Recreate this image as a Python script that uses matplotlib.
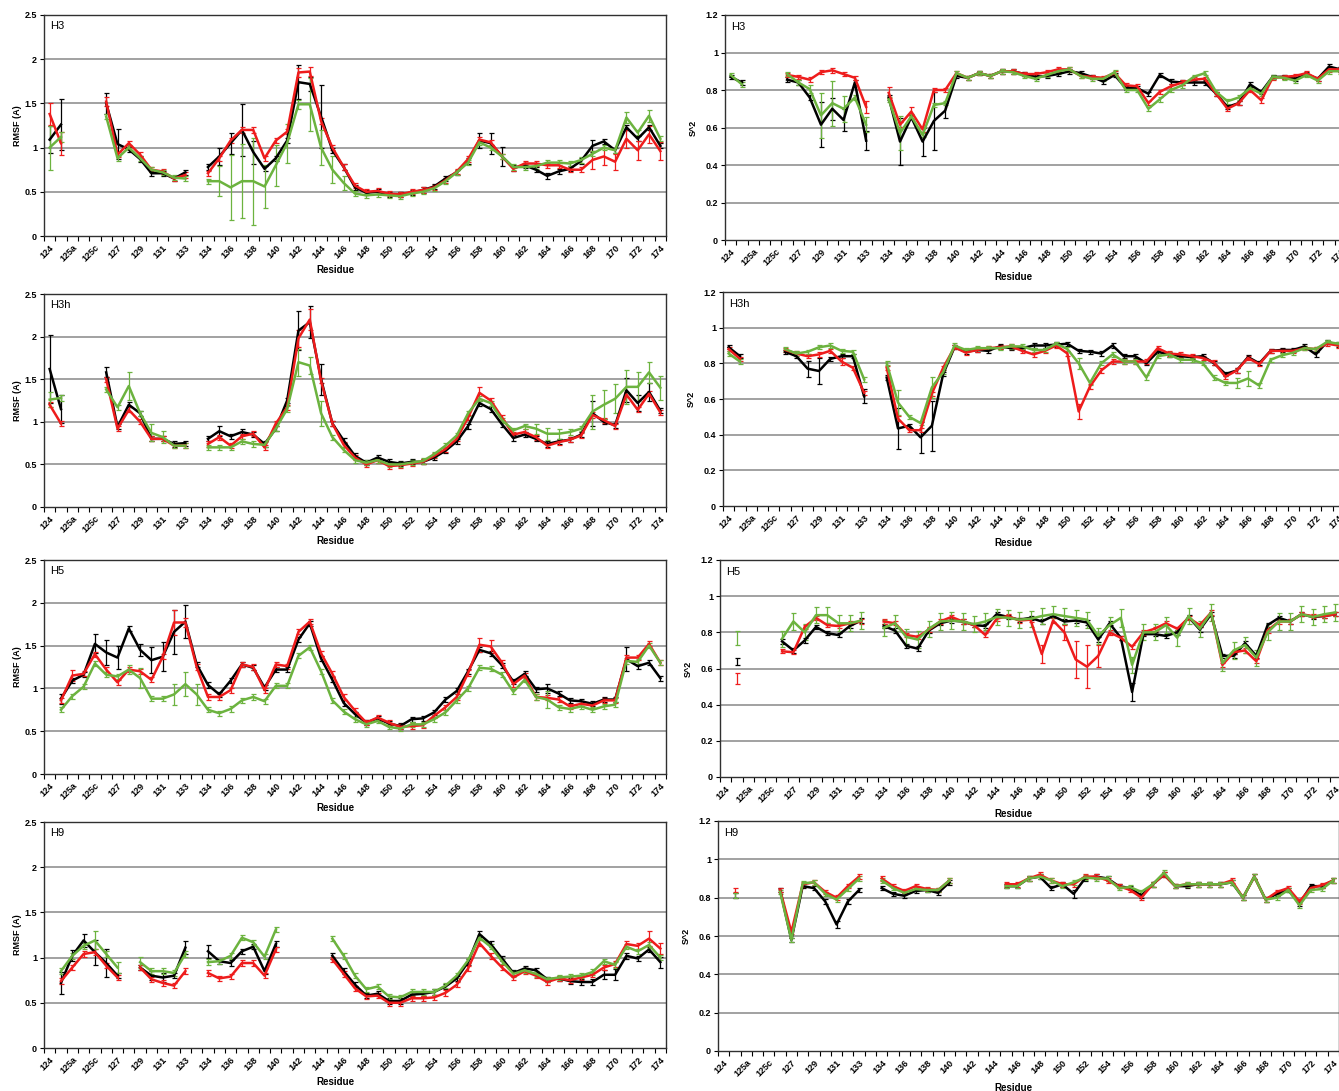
import numpy as np
import matplotlib
matplotlib.use('Agg')
import matplotlib.pyplot as plt

nan = np.nan

# ---------------- categories ----------------
residues = (['124', '125', '125a', '125b', '125c'] + [str(r) for r in range(126, 134)]
            + ['133a'] + [str(r) for r in range(134, 175)])
tick_labels = residues[::2]

# ---------------- RMSF data ----------------
h3_rmsf_black = [1.09,1.26,nan,nan,nan,1.50,1.04,0.98,0.87,0.71,0.71,0.65,0.72,nan,
 0.78,0.90,1.05,1.20,0.95,0.76,0.88,1.08,1.74,1.72,1.35,0.97,0.78,0.55,0.49,0.50,0.47,0.47,0.49,0.52,0.56,0.65,0.72,0.85,1.08,1.05,0.90,0.77,0.80,0.75,0.68,0.73,0.76,0.85,1.02,1.07,0.97,1.23,1.10,1.23,1.02]
h3_rmsf_red = [1.38,1.05,nan,nan,nan,1.52,0.92,1.05,0.92,0.75,0.73,0.65,0.69,nan,
 0.71,0.88,1.08,1.20,1.20,0.88,1.08,1.18,1.85,1.86,1.30,1.00,0.78,0.57,0.50,0.51,0.48,0.47,0.50,0.52,0.55,0.63,0.73,0.87,1.09,1.06,0.90,0.76,0.82,0.82,0.80,0.80,0.75,0.75,0.86,0.90,0.84,1.10,0.97,1.15,0.96]
h3_rmsf_green = [1.00,1.12,nan,nan,nan,1.35,0.88,1.00,0.88,0.75,0.72,0.66,0.65,nan,
 0.62,0.62,0.55,0.62,0.62,0.56,0.80,1.05,1.49,1.49,1.00,0.75,0.60,0.48,0.46,0.47,0.46,0.45,0.48,0.50,0.54,0.62,0.72,0.83,1.06,1.00,0.90,0.78,0.78,0.79,0.83,0.83,0.82,0.86,0.93,1.00,0.97,1.34,1.17,1.36,1.10]

h3h_rmsf_black = [1.62,1.15,nan,nan,nan,1.58,0.94,1.20,1.10,0.80,0.80,0.74,0.75,nan,
 0.80,0.89,0.83,0.88,0.85,0.74,0.92,1.25,2.07,2.17,1.50,0.98,0.78,0.60,0.52,0.58,0.53,0.51,0.53,0.53,0.58,0.66,0.77,0.95,1.22,1.15,0.97,0.81,0.85,0.80,0.74,0.77,0.79,0.85,1.10,1.00,0.96,1.37,1.22,1.35,1.13]
h3h_rmsf_red = [1.20,0.98,nan,nan,nan,1.50,0.92,1.14,1.00,0.80,0.80,0.72,0.72,nan,
 0.74,0.82,0.72,0.83,0.86,0.70,0.98,1.17,1.98,2.20,1.48,0.98,0.73,0.58,0.50,0.55,0.48,0.49,0.51,0.53,0.60,0.68,0.80,1.05,1.34,1.25,1.05,0.85,0.88,0.82,0.72,0.76,0.79,0.84,1.08,1.02,0.95,1.32,1.14,1.33,1.11]
h3h_rmsf_green = [1.26,1.28,nan,nan,nan,1.38,1.17,1.42,1.10,0.87,0.82,0.72,0.72,nan,
 0.70,0.70,0.70,0.77,0.74,0.73,0.92,1.15,1.70,1.66,1.10,0.82,0.67,0.55,0.52,0.55,0.50,0.50,0.52,0.54,0.62,0.72,0.84,1.10,1.27,1.22,1.02,0.90,0.95,0.92,0.86,0.86,0.88,0.92,1.12,1.20,1.27,1.41,1.41,1.58,1.40]

h5_rmsf_black = [nan,0.88,1.09,1.16,1.52,1.42,1.36,1.70,1.45,1.33,1.37,1.66,1.78,1.28,
 1.04,0.93,1.09,1.28,1.24,1.01,1.22,1.22,1.57,1.76,1.35,1.10,0.83,0.70,0.60,0.65,0.59,0.56,0.64,0.65,0.72,0.87,0.97,1.20,1.45,1.41,1.27,1.08,1.17,0.99,1.00,0.94,0.86,0.85,0.82,0.87,0.87,1.34,1.26,1.30,1.12]
h5_rmsf_red = [nan,0.86,1.15,1.17,1.40,1.22,1.07,1.22,1.20,1.10,1.37,1.77,1.77,1.25,
 0.90,0.90,0.98,1.28,1.25,0.98,1.28,1.26,1.66,1.78,1.41,1.17,0.90,0.74,0.60,0.66,0.60,0.55,0.56,0.57,0.68,0.78,0.90,1.18,1.51,1.49,1.30,1.05,1.15,0.90,0.89,0.87,0.79,0.82,0.80,0.86,0.86,1.36,1.36,1.52,1.30]
h5_rmsf_green = [nan,0.75,0.91,1.02,1.29,1.16,1.14,1.22,1.12,0.88,0.88,0.93,1.05,0.93,
 0.75,0.71,0.76,0.86,0.90,0.85,1.03,1.03,1.38,1.48,1.20,0.86,0.73,0.64,0.58,0.62,0.55,0.53,0.58,0.58,0.64,0.72,0.86,1.00,1.24,1.23,1.16,0.96,1.10,0.90,0.87,0.78,0.76,0.79,0.75,0.79,0.81,1.32,1.31,1.50,1.30]

h9_rmsf_black = [nan,0.72,1.02,1.19,1.06,0.94,0.80,nan,0.89,0.80,0.78,0.80,1.11,nan,
 1.07,0.96,0.94,1.07,1.12,0.85,1.15,nan,nan,nan,nan,1.02,0.85,0.70,0.58,0.60,0.52,0.52,0.59,0.60,0.62,0.68,0.77,0.95,1.26,1.15,0.99,0.83,0.88,0.86,0.76,0.77,0.74,0.73,0.73,0.81,0.81,1.02,0.99,1.09,0.95]
h9_rmsf_red = [nan,0.74,0.89,1.04,1.06,0.91,0.78,nan,0.89,0.76,0.72,0.69,0.85,nan,
 0.83,0.77,0.79,0.94,0.94,0.80,1.09,nan,nan,nan,nan,0.98,0.82,0.66,0.57,0.58,0.50,0.50,0.55,0.55,0.56,0.61,0.70,0.88,1.16,1.02,0.89,0.78,0.85,0.80,0.73,0.77,0.75,0.78,0.81,0.89,0.93,1.15,1.13,1.21,1.10]
h9_rmsf_green = [nan,0.85,1.02,1.13,1.19,1.04,0.89,nan,0.95,0.85,0.85,0.83,1.04,nan,
 0.95,0.96,1.02,1.22,1.17,1.01,1.31,nan,nan,nan,nan,1.21,1.02,0.80,0.65,0.68,0.57,0.56,0.62,0.62,0.62,0.69,0.80,0.97,1.22,1.12,0.96,0.82,0.86,0.82,0.76,0.78,0.79,0.80,0.84,0.96,0.92,1.12,1.07,1.14,1.00]

# ---------------- S^2 data ----------------
h3_s2_black = [0.87,0.84,nan,nan,nan,0.855,0.84,0.76,0.615,0.70,0.64,0.84,0.53,nan,
 0.76,0.525,0.655,0.525,0.635,0.69,0.875,0.865,0.89,0.875,0.90,0.90,0.885,0.87,0.875,0.885,0.90,0.89,0.87,0.845,0.88,0.81,0.81,0.78,0.88,0.845,0.84,0.84,0.84,0.78,0.71,0.73,0.83,0.79,0.87,0.87,0.86,0.885,0.86,0.925,0.91]
h3_s2_red = [nan,nan,nan,nan,nan,0.88,0.87,0.855,0.895,0.905,0.885,0.865,0.71,nan,
 0.785,0.615,0.685,0.59,0.80,0.80,0.89,0.865,0.89,0.875,0.90,0.90,0.885,0.885,0.895,0.91,0.91,0.875,0.87,0.865,0.89,0.825,0.82,0.73,0.79,0.82,0.84,0.855,0.86,0.78,0.70,0.73,0.80,0.745,0.865,0.87,0.875,0.89,0.86,0.91,0.91]
h3_s2_green = [0.88,0.83,nan,nan,nan,0.885,0.84,0.805,0.665,0.73,0.70,0.76,0.615,nan,
 0.75,0.57,0.66,0.56,0.72,0.73,0.89,0.865,0.89,0.875,0.90,0.895,0.875,0.86,0.88,0.90,0.91,0.875,0.86,0.86,0.895,0.80,0.80,0.70,0.75,0.80,0.825,0.87,0.89,0.79,0.74,0.76,0.81,0.78,0.87,0.865,0.85,0.88,0.85,0.90,0.90]

h3h_s2_black = [0.89,0.84,nan,nan,nan,0.865,0.84,0.77,0.757,0.825,0.84,0.84,0.615,nan,
 0.72,0.435,0.45,0.385,0.45,0.74,0.89,0.865,0.875,0.87,0.895,0.885,0.885,0.90,0.90,0.905,0.91,0.87,0.865,0.855,0.90,0.84,0.84,0.80,0.865,0.85,0.84,0.835,0.84,0.80,0.74,0.76,0.835,0.80,0.87,0.875,0.875,0.895,0.85,0.92,0.905]
h3h_s2_red = [0.88,0.825,nan,nan,nan,0.875,0.855,0.84,0.85,0.87,0.81,0.775,0.635,nan,
 0.775,0.49,0.425,0.425,0.63,0.775,0.89,0.86,0.875,0.885,0.89,0.895,0.87,0.85,0.87,0.90,0.855,0.53,0.67,0.76,0.81,0.81,0.81,0.81,0.885,0.855,0.85,0.84,0.83,0.805,0.725,0.76,0.83,0.795,0.87,0.87,0.87,0.885,0.88,0.91,0.90]
h3h_s2_green = [0.855,0.81,nan,nan,nan,0.88,0.855,0.865,0.89,0.90,0.87,0.865,0.71,nan,
 0.80,0.58,0.50,0.465,0.665,0.75,0.90,0.875,0.885,0.885,0.885,0.895,0.895,0.875,0.875,0.91,0.88,0.80,0.69,0.80,0.85,0.81,0.81,0.72,0.84,0.85,0.82,0.82,0.80,0.72,0.69,0.69,0.715,0.675,0.82,0.845,0.86,0.885,0.88,0.92,0.91]

h5_s2_black = [nan,0.64,nan,nan,nan,0.75,0.70,0.755,0.83,0.795,0.785,0.835,0.865,nan,
 0.835,0.81,0.725,0.71,0.81,0.85,0.865,0.86,0.84,0.835,0.90,0.885,0.87,0.88,0.86,0.89,0.86,0.865,0.855,0.76,0.85,0.77,0.47,0.79,0.79,0.78,0.80,0.885,0.815,0.90,0.67,0.67,0.74,0.67,0.84,0.88,0.86,0.90,0.885,0.89,0.90]
h5_s2_red = [nan,0.545,nan,nan,nan,0.695,0.69,0.83,0.88,0.84,0.835,0.85,0.86,nan,
 0.86,0.85,0.785,0.775,0.815,0.86,0.885,0.86,0.84,0.785,0.875,0.89,0.865,0.87,0.68,0.865,0.80,0.65,0.61,0.67,0.80,0.77,0.72,0.80,0.82,0.85,0.82,0.88,0.84,0.91,0.62,0.69,0.70,0.64,0.81,0.86,0.86,0.90,0.89,0.89,0.90]
h5_s2_green = [nan,0.77,nan,nan,nan,0.765,0.86,0.80,0.895,0.895,0.85,0.85,0.865,nan,
 0.825,0.85,0.775,0.76,0.82,0.86,0.865,0.86,0.845,0.86,0.885,0.88,0.87,0.875,0.89,0.90,0.89,0.88,0.87,0.78,0.84,0.88,0.62,0.80,0.80,0.84,0.77,0.89,0.82,0.91,0.63,0.70,0.73,0.66,0.80,0.86,0.86,0.90,0.885,0.90,0.91]

h9_s2_black = [nan,0.81,nan,nan,nan,0.84,0.58,0.86,0.85,0.78,0.66,0.78,0.84,nan,
 0.85,0.82,0.81,0.835,0.84,0.825,0.88,nan,nan,nan,nan,0.86,0.86,0.90,0.91,0.85,0.87,0.82,0.90,0.91,0.90,0.86,0.85,0.81,0.87,0.92,0.86,0.86,0.87,0.87,0.87,0.88,0.80,0.91,0.79,0.82,0.84,0.77,0.86,0.86,0.89]
h9_s2_red = [nan,0.84,nan,nan,nan,0.84,0.62,0.87,0.88,0.83,0.80,0.86,0.91,nan,
 0.90,0.86,0.835,0.86,0.845,0.84,0.89,nan,nan,nan,nan,0.87,0.87,0.90,0.92,0.89,0.87,0.87,0.91,0.91,0.89,0.86,0.84,0.80,0.87,0.92,0.86,0.87,0.87,0.87,0.87,0.89,0.80,0.91,0.79,0.83,0.85,0.78,0.85,0.865,0.89]
h9_s2_green = [nan,0.81,nan,nan,nan,0.83,0.58,0.875,0.88,0.82,0.79,0.845,0.90,nan,
 0.89,0.85,0.825,0.845,0.84,0.84,0.89,nan,nan,nan,nan,0.86,0.86,0.90,0.91,0.89,0.86,0.88,0.905,0.90,0.90,0.85,0.855,0.83,0.87,0.93,0.86,0.87,0.87,0.87,0.87,0.88,0.80,0.91,0.79,0.80,0.84,0.76,0.84,0.845,0.89]

# ---------------- error bars (half widths; default + notable ones) ----------------
err_default_rmsf = 0.03
err_default_s2 = 0.012
h3_rmsf_err = {
    'k': {'124': 0.15, '125': 0.29, '126': 0.12, '127': 0.17, '135': 0.1, '136': 0.12,
          '137': 0.29, '138': 0.13, '142': 0.19, '143': 0.08, '144': 0.36, '160': 0.11,
          '158': 0.08, '159': 0.12, '168': 0.07},
    'r': {'124': 0.12, '125': 0.13, '126': 0.05, '142': 0.05, '143': 0.05, '168': 0.1,
          '169': 0.1, '170': 0.09, '171': 0.1, '172': 0.11, '173': 0.1, '174': 0.1},
    'g': {'124': 0.25, '125': 0.06, '135': 0.17, '136': 0.37, '137': 0.42, '138': 0.49,
          '139': 0.24, '140': 0.23, '141': 0.22, '142': 0.05, '143': 0.3, '144': 0.2,
          '145': 0.15, '146': 0.08, '171': 0.06, '173': 0.07},
}
h3h_rmsf_err = {
    'k': {'124': 0.4, '125': 0.16, '126': 0.06, '135': 0.06, '142': 0.23, '143': 0.19,
          '144': 0.18, '168': 0.15, '171': 0.14, '172': 0.09, '173': 0.1},
    'r': {'142': 0.1, '143': 0.12, '158': 0.07},
    'g': {'124': 0.09, '128': 0.16, '130': 0.1, '131': 0.07, '142': 0.16, '143': 0.1,
          '144': 0.15, '168': 0.2, '169': 0.17, '170': 0.17, '171': 0.2, '172': 0.17,
          '173': 0.12, '174': 0.14, '164': 0.07, '163': 0.06, '165': 0.06},
}
h5_rmsf_err = {
    'k': {'125': 0.06, '125c': 0.11, '126': 0.15, '127': 0.13, '129': 0.07, '130': 0.15,
          '131': 0.17, '132': 0.26, '133': 0.19, '171': 0.14, '164': 0.05},
    'r': {'132': 0.15, '133': 0.05, '158': 0.08, '159': 0.08, '125a': 0.06},
    'g': {'129': 0.12, '132': 0.12, '133': 0.14, '133a': 0.12, '164': 0.1, '128': 0.05},
}
h9_rmsf_err = {
    'k': {'125': 0.12, '125a': 0.06, '125b': 0.07, '125c': 0.14, '126': 0.15, '133': 0.07,
          '134': 0.07, '131': 0.05, '130': 0.05, '169': 0.05, '170': 0.06, '174': 0.06},
    'r': {'173': 0.08, '174': 0.06},
    'g': {'125c': 0.1, '127': 0.06, '129': 0.06},
}
h3_s2_err = {
    'k': {'129': 0.12, '130': 0.06, '131': 0.06, '133': 0.05, '135': 0.125, '137': 0.075,
          '138': 0.155, '139': 0.04},
    'r': {'133': 0.03, '134': 0.03, '136': 0.025},
    'g': {'129': 0.12, '130': 0.12, '131': 0.07, '133': 0.04, '135': 0.09, '128': 0.02},
}
h3h_s2_err = {
    'k': {'128': 0.045, '129': 0.075, '133': 0.04, '135': 0.115, '137': 0.085, '138': 0.14},
    'r': {'151': 0.04, '131': 0.02},
    'g': {'135': 0.07, '138': 0.06, '151': 0.03, '166': 0.04, '165': 0.03},
}
h5_s2_err = {
    'k': {'125': 0.02, '156': 0.05},
    'r': {'125': 0.028, '148': 0.05, '150': 0.04, '151': 0.1, '152': 0.12, '153': 0.06},
    'g': {'125': 0.04, '155': 0.05},
}
h5_s2_green_default = 0.045
h9_s2_err = {'k': {'131': 0.02, '151': 0.02}, 'r': {}, 'g': {}}

# ---------------- style ----------------
W, H = 1339, 1091
fig = plt.figure(figsize=(W / 100, H / 100), dpi=100)
plt.rcParams['font.family'] = ['Liberation Sans', 'DejaVu Sans']

colors = {'k': '#000000', 'r': '#ee1c1c', 'g': '#6cb33f'}


def axes_at(x0, top, x1, bottom):
    return fig.add_axes([x0 / W, 1 - bottom / H, (x1 - x0) / W, (bottom - top) / H])


def err_array(spec, default):
    return np.array([spec.get(r, default) for r in residues])


def draw_panel(ax, series, errs, ymax, ystep, title, default_err, green_default=None):
    n = len(residues)
    x = np.arange(n)
    ax.set_xlim(-0.5, n - 0.5)
    ax.set_ylim(0, ymax)
    yt = np.round(np.arange(0, ymax + 1e-9, ystep), 3)
    ax.set_yticks(yt)
    ax.set_yticklabels([('%g' % v) for v in yt], fontsize=6.5, fontweight='bold')
    for v in yt[1:]:
        ax.axhline(v, color='#9a9a9a', lw=1.3, zorder=0)
    for key in ['k', 'r', 'g']:
        y = np.array(series[key], dtype=float)
        assert len(y) == n
        d = default_err
        if key == 'g' and green_default is not None:
            d = green_default
        e = err_array(errs[key], d)
        ax.errorbar(x, y, yerr=e, color=colors[key], lw=1.8, elinewidth=0.9,
                    capsize=1.8, capthick=0.9, zorder=3)
    ax.set_xticks(x[::2])
    ax.set_xticklabels(tick_labels, rotation=45, ha='right', rotation_mode='anchor',
                       fontsize=6.5, fontweight='bold')
    ax.set_xticks(np.arange(-0.5, n, 1.0), minor=True)
    ax.tick_params(axis='x', which='major', length=0, pad=5)
    ax.tick_params(axis='x', which='minor', length=3.5, width=0.8, direction='out')
    ax.tick_params(axis='y', length=3, width=0.8, direction='out', pad=2)
    for s in ax.spines.values():
        s.set_color('#303030')
        s.set_linewidth(1.0)


# ---------------- layout ----------------
left_boxes = [(44, 15, 666, 236), (44, 294, 666, 507), (44, 560, 666, 774), (44, 822, 666, 1048)]
right_boxes = [(725, 15, 1346, 240), (723, 292, 1344, 506), (720, 560, 1341, 777), (718, 821, 1339, 1051)]
titles = ['H3', 'H3h', 'H5', 'H9']

rmsf_sets = [
    ({'k': h3_rmsf_black, 'r': h3_rmsf_red, 'g': h3_rmsf_green}, h3_rmsf_err),
    ({'k': h3h_rmsf_black, 'r': h3h_rmsf_red, 'g': h3h_rmsf_green}, h3h_rmsf_err),
    ({'k': h5_rmsf_black, 'r': h5_rmsf_red, 'g': h5_rmsf_green}, h5_rmsf_err),
    ({'k': h9_rmsf_black, 'r': h9_rmsf_red, 'g': h9_rmsf_green}, h9_rmsf_err),
]
s2_sets = [
    ({'k': h3_s2_black, 'r': h3_s2_red, 'g': h3_s2_green}, h3_s2_err, None),
    ({'k': h3h_s2_black, 'r': h3h_s2_red, 'g': h3h_s2_green}, h3h_s2_err, None),
    ({'k': h5_s2_black, 'r': h5_s2_red, 'g': h5_s2_green}, h5_s2_err, h5_s2_green_default),
    ({'k': h9_s2_black, 'r': h9_s2_red, 'g': h9_s2_green}, h9_s2_err, None),
]

for i in range(4):
    x0, t, x1, b = left_boxes[i]
    ax = axes_at(x0, t, x1, b)
    ser, er = rmsf_sets[i]
    draw_panel(ax, ser, er, 2.5, 0.5, titles[i], err_default_rmsf)
    fig.text((x0 + 6) / W, 1 - (t + 11) / H, titles[i], fontsize=8, va='center', ha='left')
    fig.text(17 / W, 1 - ((t + b) / 2) / H, 'RMSF (A)', rotation=90, fontsize=6.5,
             fontweight='bold', va='center', ha='center')
    fig.text(335 / W, 1 - (b + 34) / H, 'Residue', fontsize=7, fontweight='bold',
             va='center', ha='center')

    x0, t, x1, b = right_boxes[i]
    ax = axes_at(x0, t, x1, b)
    ser, er, gd = s2_sets[i]
    draw_panel(ax, ser, er, 1.2, 0.2, titles[i], err_default_s2, gd)
    fig.text((x0 + 6) / W, 1 - (t + 12) / H, titles[i], fontsize=8, va='center', ha='left')
    fig.text((x0 - 32) / W, 1 - ((t + b) / 2) / H, 'S^2', rotation=90, fontsize=6.5,
             fontweight='bold', va='center', ha='center')
    fig.text(1013 / W, 1 - (b + 37) / H, 'Residue', fontsize=7, fontweight='bold',
             va='center', ha='center')

fig.savefig('out.png', dpi=100)
